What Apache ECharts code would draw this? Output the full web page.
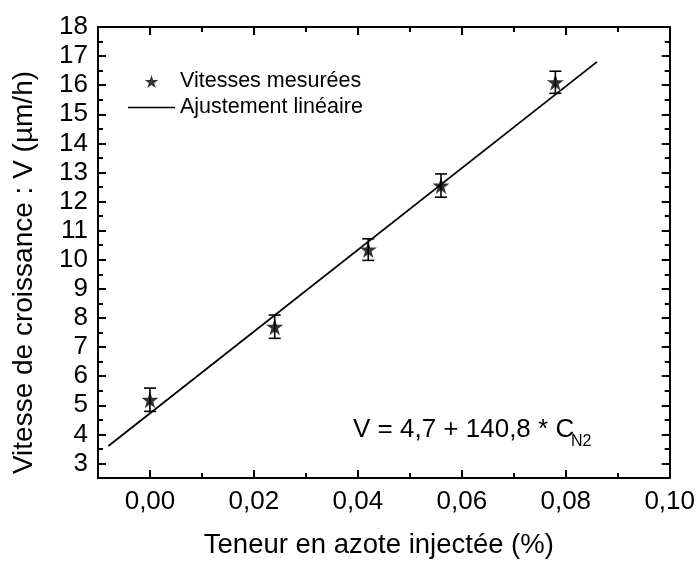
<!DOCTYPE html>
<html>
<head>
<meta charset="utf-8">
<script src="https://cdn.jsdelivr.net/npm/echarts@6/dist/echarts.min.js"></script>
<style>
html,body{margin:0;padding:0;background:#fff;}
#chart{width:698px;height:564px;}
</style>
</head>
<body>
<div id="chart"></div>
<script>
// Measured growth rates
var teneurN2 = [0.000, 0.024, 0.042, 0.056, 0.078];
var vitesses = [5.19, 7.70, 10.35, 12.55, 16.10];
var erreurs  = [0.40, 0.40, 0.37, 0.40, 0.38];
// Linear fit line endpoints
var fitX = [-0.008, 0.086];
var fitY = [3.6, 16.8];
// Tick values
var xMajor = [0, 0.02, 0.04, 0.06, 0.08, 0.10];
var xMinor = [0.01, 0.03, 0.05, 0.07, 0.09];
var yMajor = [3,4,5,6,7,8,9,10,11,12,13,14,15,16,17,18];
var yMinor = [3.5,4.5,5.5,6.5,7.5,8.5,9.5,10.5,11.5,12.5,13.5,14.5,15.5,16.5,17.5];
var seriesNames = ['Vitesses mesurées', 'Ajustement linéaire'];
var xTitle = 'Teneur en azote injectée (%)';
var yTitle = 'Vitesse de croissance : V (µm/h)';
var equation = 'V = 4,7 + 140,8 * C';
var equationSub = 'N2';

var FONT = '"Liberation Sans", Arial, sans-serif';
var STAR = 'path://M50,0 L61.2,34.5 L97.6,34.5 L68.2,55.9 L79.4,90.5 L50,69.1 L20.6,90.5 L31.8,55.9 L2.4,34.5 L38.8,34.5 Z';
var LINEICON = 'path://M0,0 L45,0 L45,1.6 L0,1.6 Z';

var chart = echarts.init(document.getElementById('chart'), null, {renderer: 'canvas'});

function mkX(pos, ticks, len, showLine, showLabel, name) {
  var a = {
    type: 'value', position: pos, min: -0.01, max: 0.10,
    splitLine: {show: false},
    axisLine: {show: showLine, onZero: false, lineStyle: {color: '#000', width: 2}},
    axisTick: {show: true, inside: true, length: len, customValues: ticks, lineStyle: {color: '#000', width: 2}},
    axisLabel: {show: showLabel, customValues: ticks, margin: 11, color: '#000', fontFamily: FONT, fontSize: 26,
      formatter: function (v) { return v.toFixed(2).replace('.', ','); }}
  };
  if (name) {
    a.name = name; a.nameLocation = 'middle'; a.nameGap = 53;
    a.nameTextStyle = {color: '#000', fontFamily: FONT, fontSize: 27.5, padding: [0, 10, 0, 0]};
  }
  return a;
}
function mkY(pos, ticks, len, showLine, showLabel, name) {
  var a = {
    type: 'value', position: pos, min: 2.5, max: 18,
    splitLine: {show: false},
    axisLine: {show: showLine, onZero: false, lineStyle: {color: '#000', width: 2}},
    axisTick: {show: true, inside: true, length: len, customValues: ticks, lineStyle: {color: '#000', width: 2}},
    axisLabel: {show: showLabel, customValues: ticks, margin: 10, color: '#000', fontFamily: FONT, fontSize: 26}
  };
  if (name) {
    a.name = name; a.nameLocation = 'middle'; a.nameGap = 60;
    a.nameTextStyle = {color: '#000', fontFamily: FONT, fontSize: 28, padding: [0, 40, 0, 0]};
  }
  return a;
}

var errData = teneurN2.map(function (x, i) { return [x, vitesses[i], erreurs[i]]; });
var ptData = teneurN2.map(function (x, i) { return [x, vitesses[i]]; });
var fitData = fitX.map(function (x, i) { return [x, fitY[i]]; });

chart.setOption({
  animation: false,
  backgroundColor: '#fff',
  grid: {left: 98, right: 25, top: 27, bottom: 77, containLabel: false},
  xAxis: [
    mkX('bottom', xMajor, 8, true, true, xTitle),
    mkX('bottom', xMinor, 5, false, false),
    mkX('top', xMajor, 8, true, false),
    mkX('top', xMinor, 5, false, false)
  ],
  yAxis: [
    mkY('left', yMajor, 8, true, true, yTitle),
    mkY('left', yMinor, 5, false, false),
    mkY('right', yMajor, 8, true, false),
    mkY('right', yMinor, 5, false, false)
  ],
  legend: {
    orient: 'vertical', left: 128, top: 70, padding: 0,
    itemWidth: 47, itemHeight: 13, itemGap: 3, itemTextGap: 6,
    textStyle: {color: '#000', fontFamily: FONT, fontSize: 21.5, lineHeight: 23},
    data: [
      {name: seriesNames[0], icon: STAR},
      {name: seriesNames[1], icon: LINEICON}
    ]
  },
  series: [
    {
      name: seriesNames[1], type: 'line', data: fitData,
      showSymbol: false, symbol: 'none',
      lineStyle: {color: '#000', width: 1.8},
      itemStyle: {color: '#000'}, z: 2
    },
    {
      name: 'err', type: 'custom', data: errData, z: 3,
      renderItem: function (params, api) {
        var x = api.value(0), y = api.value(1), e = api.value(2);
        var top = api.coord([x, y + e]);
        var bot = api.coord([x, y - e]);
        var hw = 6;
        var st = {stroke: '#000', lineWidth: 1.6};
        return {type: 'group', children: [
          {type: 'line', shape: {x1: top[0], y1: top[1], x2: bot[0], y2: bot[1]}, style: st},
          {type: 'line', shape: {x1: top[0] - hw, y1: top[1], x2: top[0] + hw, y2: top[1]}, style: st},
          {type: 'line', shape: {x1: bot[0] - hw, y1: bot[1], x2: bot[0] + hw, y2: bot[1]}, style: st}
        ]};
      }
    },
    {
      name: seriesNames[0], type: 'scatter', data: ptData,
      symbol: STAR, symbolSize: 17,
      itemStyle: {color: '#000'}, z: 4
    }
  ],
  graphic: [
    {type: 'text', x: 353, y: 430, z: 10,
      style: {text: equation, fill: '#000', font: '26px ' + FONT, verticalAlign: 'middle', align: 'left'}},
    {type: 'text', x: 571, y: 442, z: 10,
      style: {text: equationSub, fill: '#000', font: '16px ' + FONT, verticalAlign: 'middle', align: 'left'}}
  ]
});
</script>
</body>
</html>
